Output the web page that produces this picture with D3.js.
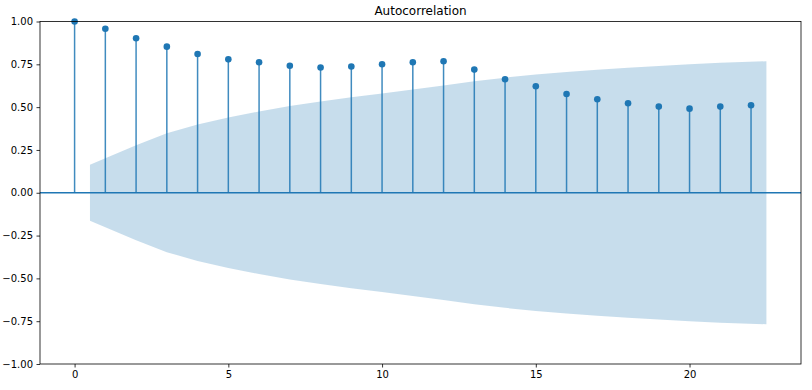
<!DOCTYPE html>
<html>
<head>
<meta charset="utf-8">
<script src="https://cdn.jsdelivr.net/npm/d3@7"></script>
<style>
  body { margin: 0; background: #fff; }
  svg { display: block; font-family: "DejaVu Sans", sans-serif; }
</style>
</head>
<body>
<svg id="chart"></svg>
<script>
// acf values, lag 0..22
const lags = [0, 1, 2, 3, 4, 5, 6, 7, 8, 9, 10, 11, 12, 13, 14, 15, 16, 17, 18, 19, 20, 21, 22];
const acf = [1.0, 0.958, 0.902, 0.853, 0.810, 0.779, 0.762, 0.742, 0.731, 0.737, 0.750, 0.762,
             0.768, 0.719, 0.663, 0.622, 0.577, 0.546, 0.523, 0.503, 0.491, 0.503, 0.511];
// confidence band (half width), ends pushed out by half a lag
const bandX = [0.5, 2, 3, 4, 5, 6, 7, 8, 9, 10, 11, 12, 13, 14, 15, 16, 17, 18, 19, 20, 21, 22.5];
const bandW = [0.164, 0.278, 0.347, 0.398, 0.440, 0.475, 0.506, 0.533, 0.558, 0.580, 0.603, 0.627,
               0.651, 0.672, 0.690, 0.705, 0.718, 0.730, 0.740, 0.750, 0.759, 0.768];
const xTicks = [0, 5, 10, 15, 20];
const yTicks = [-1, -0.75, -0.5, -0.25, 0, 0.25, 0.5, 0.75, 1];

const WIDTH = 812, HEIGHT = 390,
      MARGINS = { top: 21.5, right: 11, bottom: 26, left: 40 };
const C0 = '#1f77b4';

const svg = d3.select('#chart')
  .attr('width', WIDTH)
  .attr('height', HEIGHT);

const x = d3.scaleLinear().domain([-1.125, 23.625]).range([MARGINS.left, WIDTH - MARGINS.right]);
const y = d3.scaleLinear().domain([-1, 1]).range([HEIGHT - MARGINS.bottom, MARGINS.top]);

const band = bandX.map((v, i) => ({ x: v, w: bandW[i] }));

svg.append('path')
  .datum(band)
  .attr('fill', C0)
  .attr('fill-opacity', 0.25)
  .attr('d', d3.area()
    .x(d => x(d.x))
    .y0(d => y(-d.w))
    .y1(d => y(d.w)));

// zero line
svg.append('line')
  .attr('x1', x.range()[0]).attr('x2', x.range()[1])
  .attr('y1', y(0)).attr('y2', y(0))
  .attr('stroke', C0)
  .attr('stroke-width', 1.5);

const pts = lags.map((l, i) => ({ lag: l, v: acf[i] }));

svg.append('g').selectAll('line')
  .data(pts)
  .join('line')
  .attr('x1', d => x(d.lag)).attr('x2', d => x(d.lag))
  .attr('y1', y(0)).attr('y2', d => y(d.v))
  .attr('stroke', C0)
  .attr('stroke-opacity', 0.85)
  .attr('stroke-width', 1.5);

svg.append('g').selectAll('circle')
  .data(pts)
  .join('circle')
  .attr('cx', d => x(d.lag))
  .attr('cy', d => y(d.v))
  .attr('r', 3.3)
  .attr('fill', C0);

// axes
const fmt = d => d3.format('.2f')(d).replace('-', '\u2212');

const gx = svg.append('g')
  .attr('transform', `translate(0,${HEIGHT - MARGINS.bottom})`)
  .call(d3.axisBottom(x).tickValues(xTicks).tickSize(3.5).tickPadding(3.5).tickFormat(d3.format('d')));
const gy = svg.append('g')
  .attr('transform', `translate(${MARGINS.left},0)`)
  .call(d3.axisLeft(y).tickValues(yTicks).tickSize(3.5).tickPadding(3.5).tickFormat(fmt));

[gx, gy].forEach(g => {
  g.select('.domain').remove();
  g.selectAll('.tick line').attr('stroke', '#000').attr('stroke-width', 0.8);
  g.selectAll('.tick text').attr('fill', '#000').style('font-size', '10px').style('font-family', '"DejaVu Sans", sans-serif');
});

svg.append('rect')
  .attr('x', MARGINS.left)
  .attr('y', MARGINS.top)
  .attr('width', WIDTH - MARGINS.left - MARGINS.right)
  .attr('height', HEIGHT - MARGINS.top - MARGINS.bottom)
  .attr('fill', 'none')
  .attr('stroke', '#000')
  .attr('stroke-width', 0.8);

svg.append('text')
  .attr('x', (MARGINS.left + WIDTH - MARGINS.right) / 2)
  .attr('y', MARGINS.top - 6.5)
  .attr('text-anchor', 'middle')
  .style('font-size', '12px')
  .text('Autocorrelation');
</script>
</body>
</html>
